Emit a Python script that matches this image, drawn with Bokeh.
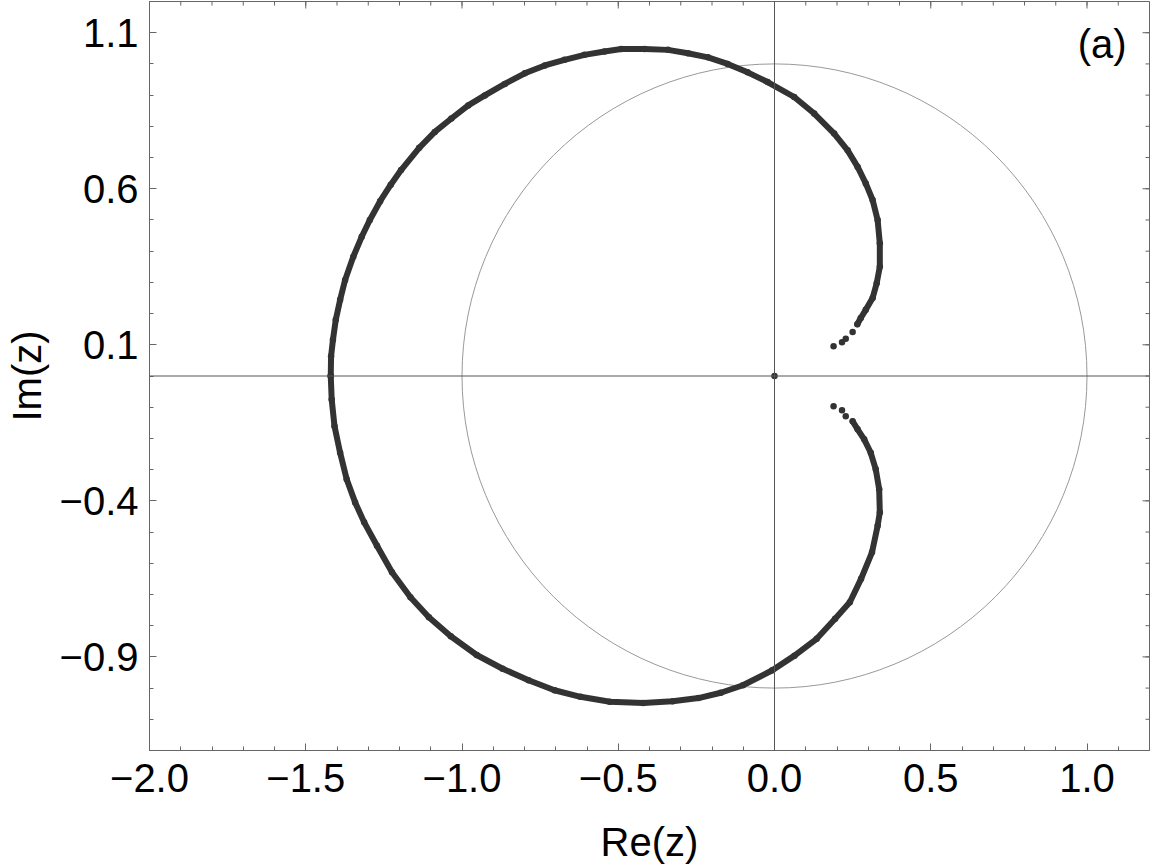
from bokeh.plotting import figure
from bokeh.models import Range1d, FixedTicker, Span, Label
from bokeh.embed import file_html
from bokeh.resources import INLINE

# ---- data (zeros in the complex plane) ----
# upper branch: from the leftmost point on the real axis, over the top, down to the hook
upper_re = [-1.420, -1.419, -1.413, -1.404, -1.390, -1.374, -1.348, -1.321, -1.295, -1.262,
            -1.228, -1.195, -1.137, -1.087, -1.034, -0.980, -0.927, -0.863, -0.799, -0.735,
            -0.672, -0.608, -0.544, -0.490, -0.416, -0.341, -0.277, -0.213, -0.150, -0.086,
            -0.022, 0.063, 0.127, 0.191, 0.234, 0.266, 0.292, 0.314, 0.330, 0.337,
            0.337, 0.327, 0.314, 0.292, 0.276, 0.265]
upper_im = [0.000, 0.063, 0.116, 0.180, 0.244, 0.308, 0.382, 0.446, 0.500, 0.560,
            0.613, 0.660, 0.731, 0.782, 0.825, 0.867, 0.899, 0.936, 0.970, 0.995,
            1.013, 1.029, 1.040, 1.048, 1.048, 1.045, 1.034, 1.021, 1.000, 0.973,
            0.942, 0.894, 0.841, 0.777, 0.723, 0.670, 0.617, 0.564, 0.500, 0.425,
            0.350, 0.297, 0.250, 0.212, 0.186, 0.166]
# lower branch: from the leftmost point, under the bottom, up to the hook
lower_re = [-1.420, -1.417, -1.408, -1.390, -1.369, -1.342, -1.313, -1.272, -1.224, -1.165,
            -1.106, -1.036, -0.953, -0.870, -0.787, -0.704, -0.621, -0.527, -0.420, -0.326,
            -0.243, -0.172, -0.101, -0.007, 0.064, 0.135, 0.194, 0.241, 0.277, 0.312,
            0.330, 0.337, 0.335, 0.324, 0.308, 0.287, 0.266, 0.250]
lower_im = [0.000, -0.075, -0.161, -0.246, -0.331, -0.405, -0.469, -0.544, -0.629, -0.709,
            -0.773, -0.834, -0.894, -0.938, -0.975, -1.007, -1.028, -1.044, -1.048, -1.042,
            -1.032, -1.015, -0.991, -0.943, -0.896, -0.842, -0.778, -0.725, -0.650, -0.565,
            -0.480, -0.437, -0.363, -0.299, -0.246, -0.203, -0.171, -0.145]
# isolated zeros at the ends of the hook and at the origin
tip_re = [0.250, 0.228, 0.216, 0.189, 0.228, 0.216, 0.189, 0.0]
tip_im = [0.141, 0.119, 0.108, 0.095, -0.129, -0.110, -0.097, 0.0]

# unit circle
circle_x = [0.0]
circle_y = [0.0]
circle_d = [2.0]

# ticks
x_major = [-2.0, -1.5, -1.0, -0.5, 0.0, 0.5, 1.0]
x_labels = ["\u22122.0", "\u22121.5", "\u22121.0", "\u22120.5", "0.0", "0.5", "1.0"]
y_major = [-0.9, -0.4, 0.1, 0.6, 1.1]
y_labels = ["\u22120.9", "\u22120.4", "0.1", "0.6", "1.1"]
x_minor = [round(-2.0 + 0.1 * i, 1) for i in range(33)]
y_minor = [round(-1.2 + 0.1 * i, 1) for i in range(25)]

X0, X1 = -2.0, 1.2
Y0, Y1 = -1.2, 1.2
FRAME_W, FRAME_H = 1000, 749
FONT = "Liberation Sans"
FRAME = "#666666"
DOT = "#333333"
MAJ, MIN = 7, 4

p = figure(width=1151, height=866,
           x_range=Range1d(X0, X1), y_range=Range1d(Y0, Y1),
           output_backend="svg", toolbar_location=None,
           min_border_left=149, min_border_right=2, min_border_top=1, min_border_bottom=116)
p.grid.visible = False
p.outline_line_color = FRAME
p.outline_line_width = 1
p.background_fill_color = "white"
p.border_fill_color = "white"


def style_axis(ax, major, minor, labels):
    ax.ticker = FixedTicker(ticks=major, minor_ticks=minor)
    ax.axis_line_color = FRAME
    ax.axis_line_width = 1
    ax.major_tick_line_color = FRAME
    ax.minor_tick_line_color = FRAME
    ax.major_tick_in = MAJ
    ax.major_tick_out = 0
    ax.minor_tick_in = MIN
    ax.minor_tick_out = 0
    ax.major_label_overrides = {v: s for v, s in zip(major, labels)}
    ax.major_label_text_font = FONT
    ax.major_label_text_font_size = "40px"
    ax.major_label_text_color = "black"
    ax.axis_label_text_font = FONT
    ax.axis_label_text_font_size = "40px"
    ax.axis_label_text_font_style = "normal"
    ax.axis_label_text_color = "black"


xb = p.xaxis[0]
yl = p.yaxis[0]
style_axis(xb, x_major, x_minor, x_labels)
style_axis(yl, y_major, y_minor, y_labels)
xb.axis_label = "Re(z)"
yl.axis_label = "Im(z)"
xb.major_label_standoff = 13
xb.axis_label_standoff = 25
yl.major_label_standoff = 11
yl.axis_label_standoff = 8

# frame ticks on the top and right edges (no labels)
dy_maj = MAJ * (Y1 - Y0) / FRAME_H
dy_min = MIN * (Y1 - Y0) / FRAME_H
dx_maj = MAJ * (X1 - X0) / FRAME_W
dx_min = MIN * (X1 - X0) / FRAME_W
p.segment(x0=x_minor, y0=[Y1] * len(x_minor), x1=x_minor, y1=[Y1 - dy_min] * len(x_minor),
          line_color=FRAME, line_width=1)
p.segment(x0=x_major, y0=[Y1] * len(x_major), x1=x_major, y1=[Y1 - dy_maj] * len(x_major),
          line_color=FRAME, line_width=1)
p.segment(x0=[X1] * len(y_minor), y0=y_minor, x1=[X1 - dx_min] * len(y_minor), y1=y_minor,
          line_color=FRAME, line_width=1)
p.segment(x0=[X1] * len(y_major), y0=y_major, x1=[X1 - dx_maj] * len(y_major), y1=y_major,
          line_color=FRAME, line_width=1)

# axes through the origin
p.add_layout(Span(location=0, dimension="width", line_color="#555555", line_width=1))
p.add_layout(Span(location=0, dimension="height", line_color="#555555", line_width=1))

# unit circle
p.ellipse(x=circle_x, y=circle_y, width=circle_d, height=circle_d,
          fill_color=None, line_color="#999999", line_width=1)

# zeros
for xs, ys in ((upper_re, upper_im), (lower_re, lower_im)):
    p.line(xs, ys, line_width=6, line_color=DOT, line_join="round", line_cap="round")
    p.scatter(xs, ys, size=6.5, fill_color=DOT, line_color=None)
p.scatter(tip_re, tip_im, size=6.5, fill_color=DOT, line_color=None)

p.add_layout(Label(x=1.127, y=1.064, text="(a)", text_align="right", text_baseline="middle",
                   text_font=FONT, text_font_size="40px", text_color="black"))

open("out.html", "w").write(file_html(p, INLINE))
